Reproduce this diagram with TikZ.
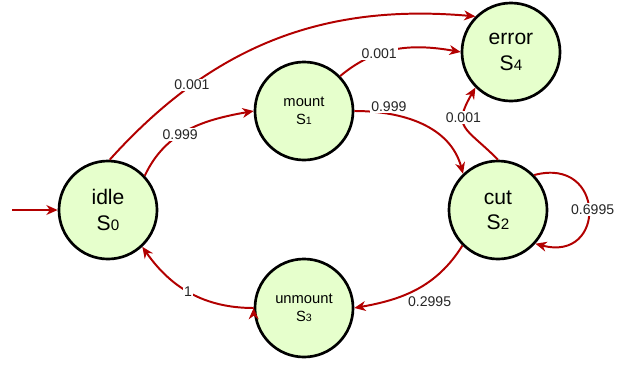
\documentclass[tikz,border=0pt]{standalone}
\usepackage{fontspec}
\setmainfont{Liberation Sans}
\usepackage{graphicx}
\usetikzlibrary{arrows.meta}
\definecolor{statefill}{HTML}{E6FFCC}
\definecolor{arcred}{HTML}{B20000}
\newcommand{\sidx}[1]{\scalebox{0.72}{#1}}

\begin{document}
\begin{tikzpicture}[x=0.025cm, y=0.025cm]
    \tikzstyle{state}=[circle, draw, line width=1.9pt, fill=statefill,
                            inner sep=0pt, minimum size=2.45cm, align=center,
                            font=\fontsize{15}{18}\selectfont]
    \tikzstyle{substate}=[font=\fontsize{10.5}{12.5}\selectfont]
    \tikzstyle{trans}=[draw=arcred, line width=1.4pt,
                            -{Stealth[length=8pt, width=7pt, inset=2.5pt]}]
    \tikzstyle{prob}=[fill=white, inner sep=1pt, text=black!85,
                            font=\fontsize{10}{12}\selectfont]
    \useasboundingbox (0,0) rectangle (639,364);

    \node[state] (idle) at (108,154) {idle\\S\sidx{0}};
    \node[state, substate] (mount) at (304,253) {mount\\S\sidx{1}};
    \node[state] (cut) at (498,154) {cut\\S\sidx{2}};
    \node[state, substate] (unmount) at (304,56) {unmount\\S\sidx{3}};
    \node[state] (error) at (511,312) {error\\S\sidx{4}};
    \coordinate (start) at (12,154);

    \path[trans] (start) edge (idle)
          (idle.88) edge[out=48, in=175] node[prob, pos=0.26] {0.001} (error.135)
          (idle.43) edge[out=65, in=190] node[prob, pos=0.42] {0.999} (mount.west)
          (mount.44) edge[out=40, in=170] node[prob, pos=0.35] {0.001} (error.west)
          (mount.east) edge[out=0, in=105] node[prob, pos=0.24, yshift=5] {0.999} (cut.134)
          (cut.north) edge[out=135, in=240, looseness=1.6] node[prob, pos=0.66] {0.001} (error.225)
          (cut.44) edge[out=15, in=-15, distance=1.85cm] node[prob, xshift=3] {0.6995} (cut.-42)
          (cut.225) edge[out=238, in=10] node[prob, pos=0.6, anchor=north west] {0.2995} (unmount.east)
          (unmount.west) edge[out=180, in=-55] node[prob, pos=0.52] {1} (idle.313);
\end{tikzpicture}
\end{document}
